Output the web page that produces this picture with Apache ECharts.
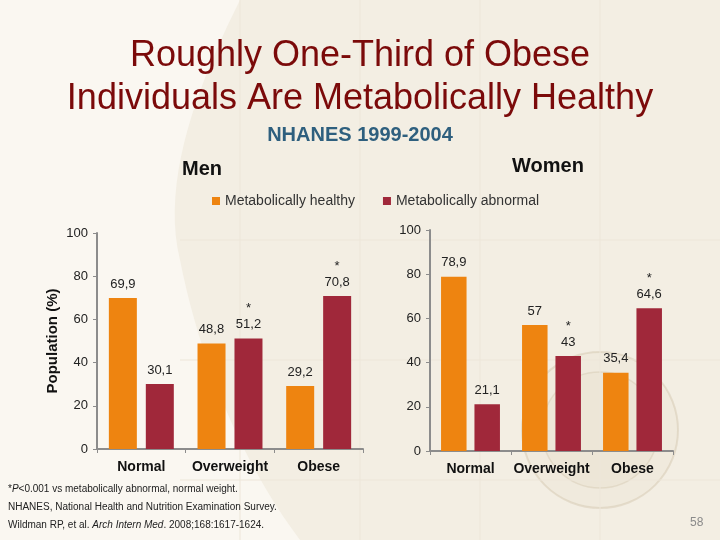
<!DOCTYPE html>
<html>
<head>
<meta charset="utf-8">
<script src="https://cdn.jsdelivr.net/npm/echarts@6/dist/echarts.min.js"></script>
<style>html,body{margin:0;padding:0;background:#F3EEE3;}#c{width:720px;height:540px;}</style>
</head>
<body>
<div id="c"></div>
<script>
// ---- data ----
const categories = ['Normal', 'Overweight', 'Obese'];
const seriesNames = ['Metabolically healthy', 'Metabolically abnormal'];
const menHealthy = [69.9, 48.8, 29.2];
const menAbnormal = [30.1, 51.2, 70.8];
const womenHealthy = [78.9, 57, 35.4];
const womenAbnormal = [21.1, 43, 64.6];
const menHealthyStar = [false, false, false];
const menAbnormalStar = [false, true, true];
const womenHealthyStar = [false, false, false];
const womenAbnormalStar = [false, true, true];
const yTicks = [0, 20, 40, 60, 80, 100];

const ORANGE = '#EE8410';
const CRIMSON = '#A0283A';
const FONT = '"Liberation Sans", Arial, sans-serif';

function fmt(stars) {
  return function (p) {
    const s = String(p.value).replace('.', ',');
    return stars[p.dataIndex] ? '*\n' + s : s;
  };
}

function yAxisCfg(gridIndex, withName) {
  const c = {
    type: 'value', gridIndex: gridIndex,
    min: yTicks[0], max: yTicks[yTicks.length - 1], interval: yTicks[1] - yTicks[0],
    axisLine: { show: true, lineStyle: { color: '#8C8C8C', width: 2 } },
    axisTick: { show: true, length: 4, lineStyle: { color: '#8C8C8C', width: 1 } },
    axisLabel: { color: '#222', fontSize: 13, fontFamily: FONT, margin: 9 },
    splitLine: { show: false }
  };
  if (withName) {
    c.name = 'Population (%)';
    c.nameLocation = 'middle';
    c.nameRotate = 90;
    c.nameGap = 37;
    c.nameTextStyle = { fontSize: 15, fontWeight: 'bold', color: '#111', fontFamily: FONT };
  }
  return c;
}

function xAxisCfg(gridIndex) {
  return {
    type: 'category', gridIndex: gridIndex, data: categories,
    axisLine: { show: true, lineStyle: { color: '#8C8C8C', width: 2 } },
    axisTick: { show: true, length: 4, lineStyle: { color: '#8C8C8C', width: 1 } },
    axisLabel: { color: '#111', fontSize: 14, fontWeight: 'bold', fontFamily: FONT, margin: 11,
      interval: 0, hideOverlap: false }
  };
}

function barSeries(name, data, stars, color, idx, gap) {
  return {
    type: 'bar', name: name, data: data,
    xAxisIndex: idx, yAxisIndex: idx,
    barWidth: idx === 0 ? 28 : 25.5,
    barGap: gap,
    itemStyle: { color: color },
    label: {
      show: true, position: 'top', distance: 6,
      formatter: fmt(stars),
      color: '#222', fontSize: 13, lineHeight: 16, fontFamily: FONT
    },
    z: 5
  };
}

// decorative background: lighter curved region on the left
function bez(p0, p1, p2, p3, n) {
  const out = [];
  for (let i = 0; i <= n; i++) {
    const t = i / n, u = 1 - t;
    out.push([
      u*u*u*p0[0] + 3*u*u*t*p1[0] + 3*u*t*t*p2[0] + t*t*t*p3[0],
      u*u*u*p0[1] + 3*u*u*t*p1[1] + 3*u*t*t*p2[1] + t*t*t*p3[1]
    ]);
  }
  return out;
}
const lightPts = [[0, 0]].concat(
  bez([240, 0], [200, 80], [160, 180], [180, 260], 20),
  bez([180, 260], [200, 360], [240, 460], [300, 540], 20),
  [[0, 540]]
);

const chart = echarts.init(document.getElementById('c'), null, { renderer: 'canvas' });

const bgGraphics = [
  { type: 'polygon', silent: true, z: -10, shape: { points: lightPts }, style: { fill: '#FAF7F1' } },
  { type: 'circle', silent: true, z: -9, shape: { cx: 600, cy: 430, r: 78 },
    style: { fill: 'rgba(200,185,155,0.08)', stroke: 'rgba(190,172,140,0.28)', lineWidth: 2 } },
  { type: 'circle', silent: true, z: -9, shape: { cx: 600, cy: 430, r: 58 },
    style: { fill: 'rgba(200,185,155,0.08)', stroke: 'rgba(190,172,140,0.24)', lineWidth: 1.5 } }
];
[240, 360, 480, 600].forEach(function (x) {
  bgGraphics.push({ type: 'line', silent: true, z: -8, shape: { x1: x, y1: 0, x2: x, y2: 540 },
    style: { stroke: '#EDE6D9', lineWidth: 1 } });
});
[240, 360, 480].forEach(function (y) {
  bgGraphics.push({ type: 'line', silent: true, z: -8, shape: { x1: 180, y1: y, x2: 720, y2: y },
    style: { stroke: '#EDE6D9', lineWidth: 1 } });
});

const richFoot = {
  n: { fontSize: 10, fill: '#222', fontFamily: FONT },
  i: { fontSize: 10, fontStyle: 'italic', fill: '#222', fontFamily: FONT }
};

const textGraphics = [
  { type: 'text', left: 'center', top: 125, z: 10,
    style: { text: 'NHANES 1999-2004', fontSize: 20, fontWeight: 'bold', fill: '#2E5F7E', fontFamily: FONT } },
  { type: 'text', left: 182, top: 159, z: 10,
    style: { text: 'Men', fontSize: 20, fontWeight: 'bold', fill: '#111', fontFamily: FONT } },
  { type: 'text', left: 512, top: 156, z: 10,
    style: { text: 'Women', fontSize: 20, fontWeight: 'bold', fill: '#111', fontFamily: FONT } },
  { type: 'text', left: 8, top: 484, z: 10,
    style: { text: '{n|*}{i|P}{n|<0.001 vs metabolically abnormal, normal weight.}', rich: richFoot } },
  { type: 'text', left: 8, top: 502, z: 10,
    style: { text: 'NHANES, National Health and Nutrition Examination Survey.', fontSize: 10, fill: '#222', fontFamily: FONT } },
  { type: 'text', left: 8, top: 520, z: 10,
    style: { text: '{n|Wildman RP, et al. }{i|Arch Intern Med}{n|. 2008;168:1617-1624.}', rich: richFoot } },
  { type: 'text', left: 690, top: 517, z: 10,
    style: { text: '58', fontSize: 12, fill: '#8A8A8A', fontFamily: FONT } }
];

chart.setOption({
  backgroundColor: '#F3EEE3',
  animation: false,
  textStyle: { fontFamily: FONT },
  title: {
    text: 'Roughly One-Third of Obese\nIndividuals Are Metabolically Healthy',
    left: 'center', top: 30,
    textStyle: { fontSize: 36, lineHeight: 43, fontWeight: 'normal', color: '#7B0A0A', fontFamily: FONT }
  },
  legend: {
    data: seriesNames, top: 189, left: 207,
    icon: 'rect', itemWidth: 8, itemHeight: 8, itemGap: 28,
    textStyle: { fontSize: 14, color: '#333', fontFamily: FONT }
  },
  grid: [
    { left: 97, top: 233, width: 266, height: 216 },
    { left: 430, top: 230, width: 243, height: 221 }
  ],
  xAxis: [xAxisCfg(0), xAxisCfg(1)],
  yAxis: [yAxisCfg(0, true), yAxisCfg(1, false)],
  series: [
    barSeries(seriesNames[0], menHealthy, menHealthyStar, ORANGE, 0, '32%'),
    barSeries(seriesNames[1], menAbnormal, menAbnormalStar, CRIMSON, 0, '32%'),
    barSeries(seriesNames[0], womenHealthy, womenHealthyStar, ORANGE, 1, '31%'),
    barSeries(seriesNames[1], womenAbnormal, womenAbnormalStar, CRIMSON, 1, '31%')
  ],
  graphic: bgGraphics.concat(textGraphics)
});
</script>
</body>
</html>
